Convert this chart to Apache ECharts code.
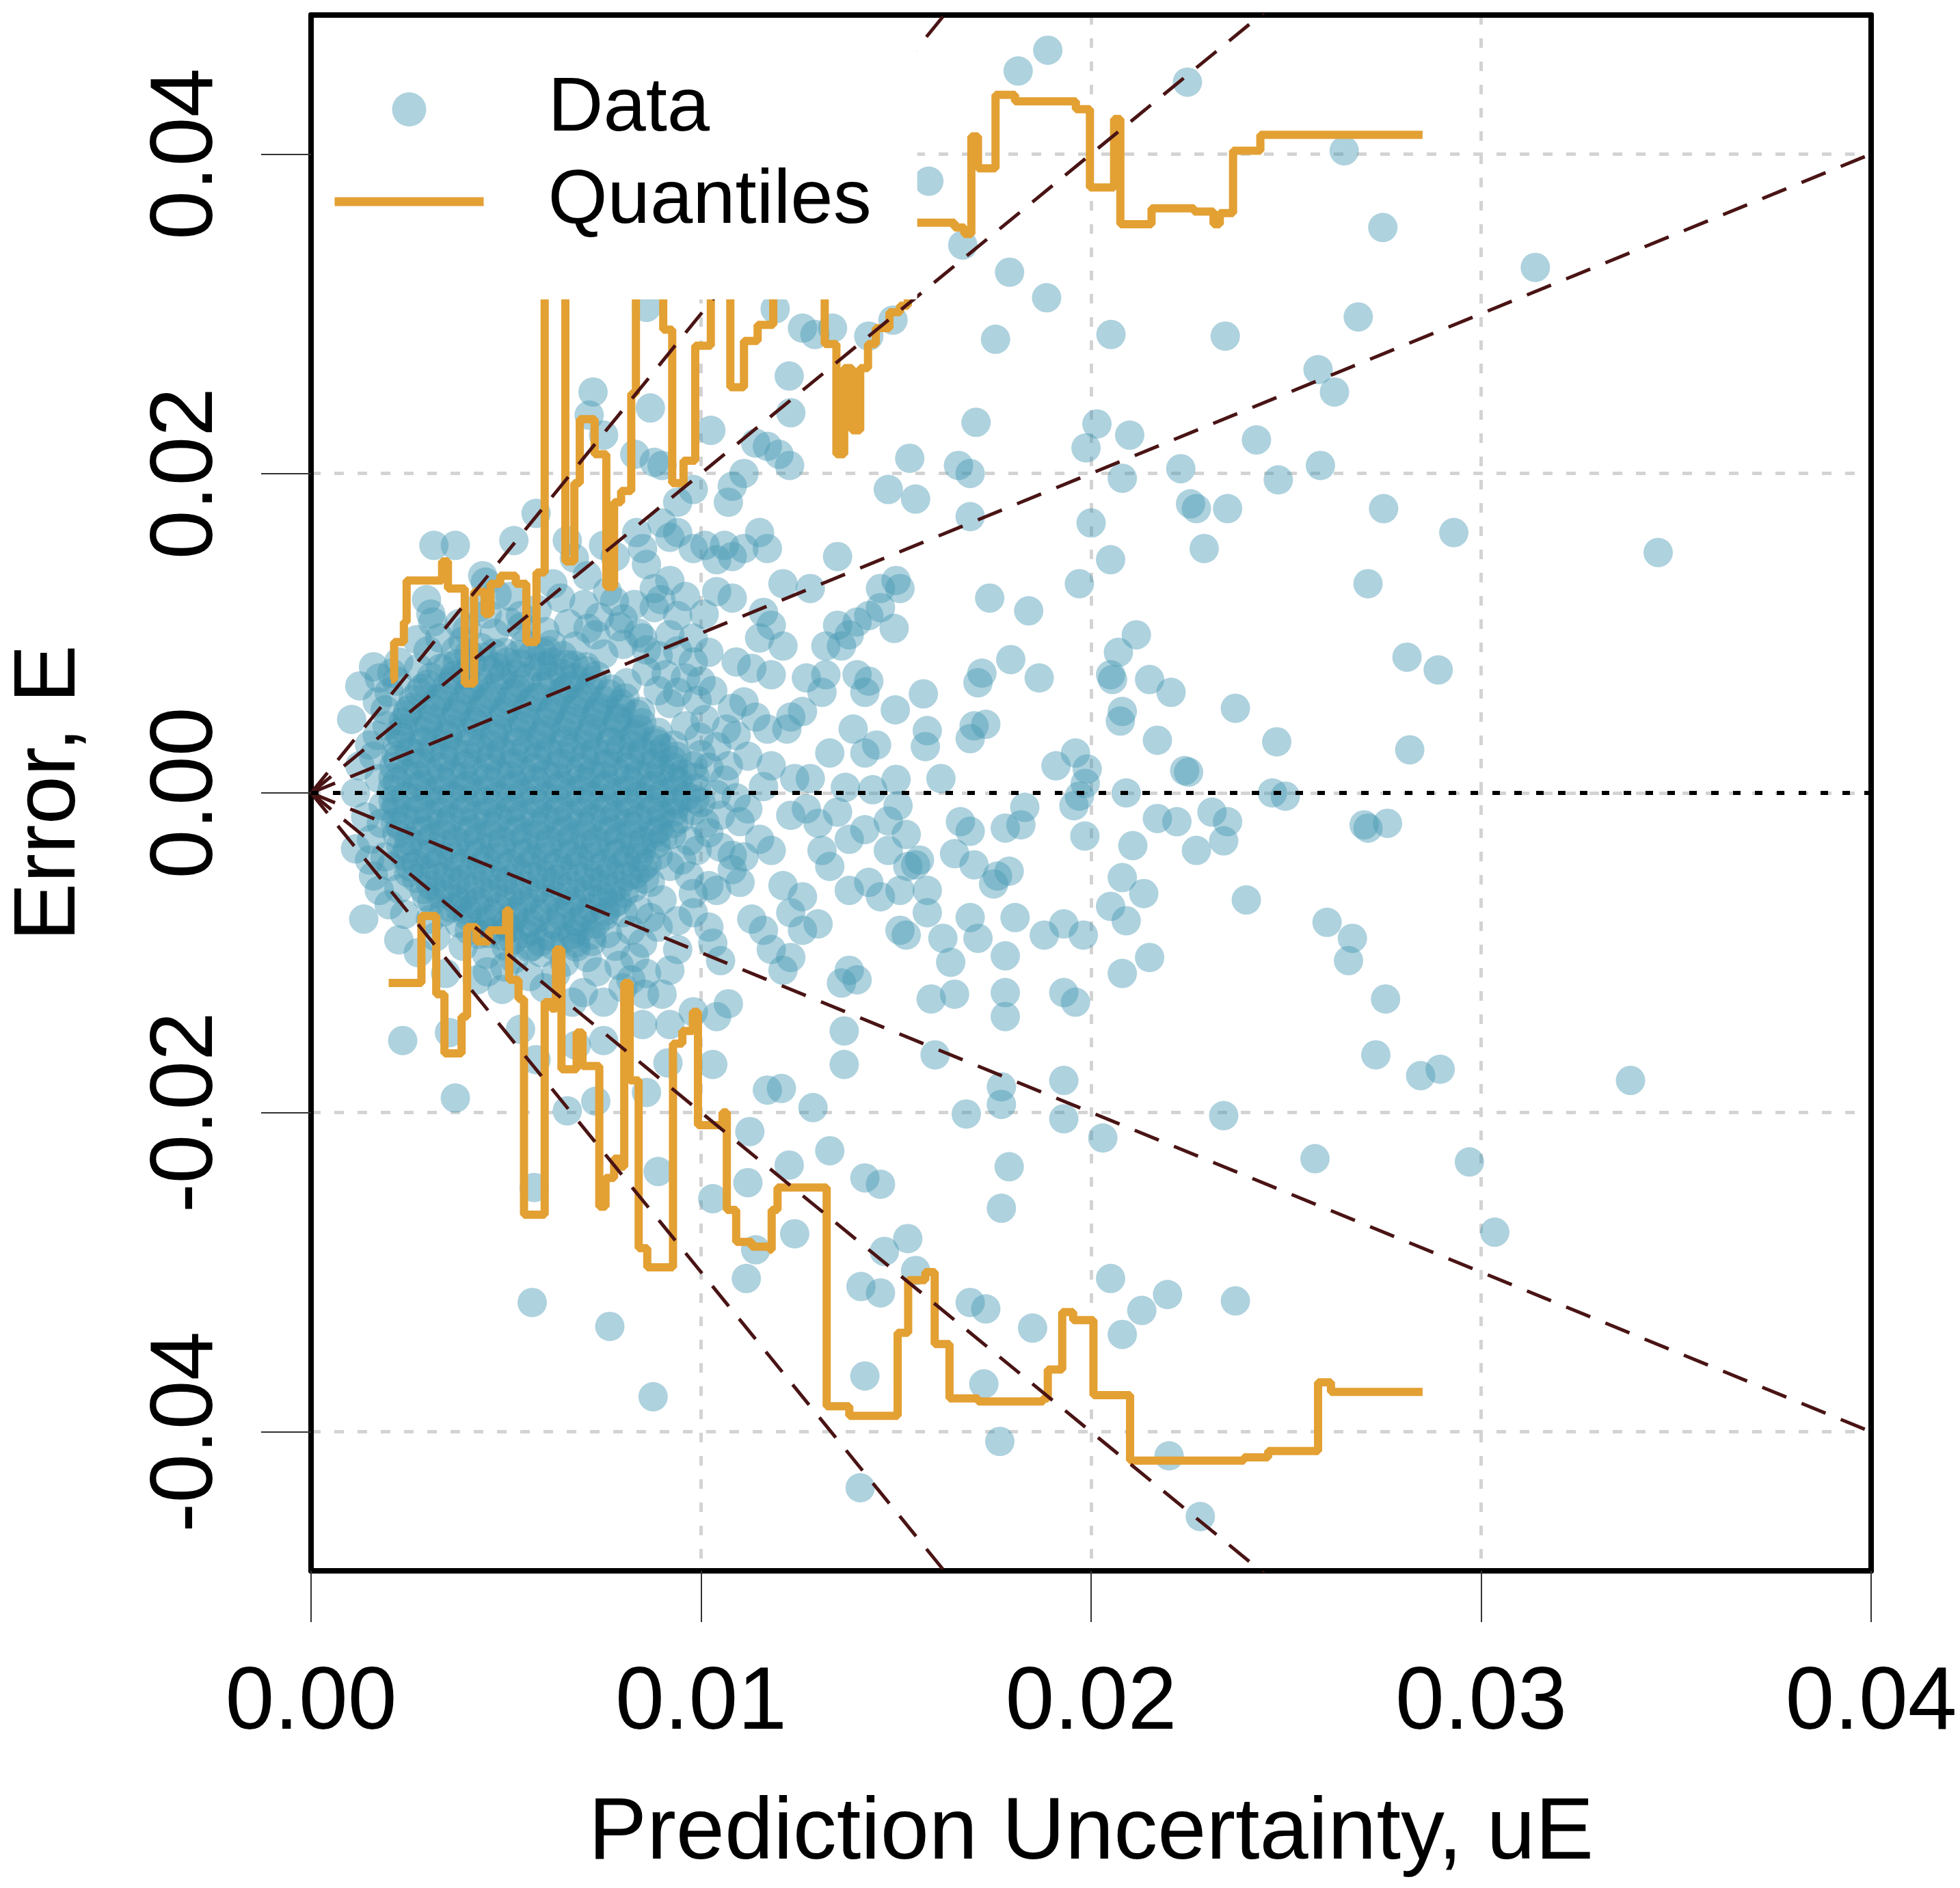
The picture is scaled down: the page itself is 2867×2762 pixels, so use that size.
<!DOCTYPE html>
<html>
<head>
<meta charset="utf-8">
<script src="https://cdn.jsdelivr.net/npm/echarts@6/dist/echarts.min.js"></script>
<style>
html,body{margin:0;padding:0;background:#fff;}
#chart{width:2867px;height:2762px;}
</style>
</head>
<body>
<div id="chart"></div>
<script>
// All values below are in units of 1e-3: [uE, E]
const corePoints = [
[4.35,9.1],[4.95,8.8],[5.48,9.3],[6.05,8.9],[3.9,9.5],
[3.75,8.1],[4.42,8.5],[5.03,8.2],[5.66,8.6],[6.18,8.2],[6.75,8.0],
[3.32,7.8],[3.95,7.4],[4.58,7.7],[5.24,7.45],[5.81,7.9],[6.43,7.5],[7.05,7.65],
[2.98,6.8],[3.63,7.05],[4.18,6.75],[4.84,7.1],[5.37,6.85],[6.02,7.0],[6.61,6.7],[7.22,7.05],
[2.77,6.3],[3.41,6.05],[4.03,6.35],[4.62,6.1],[5.19,6.25],[5.83,6.0],[6.44,6.35],[7.02,6.1],[7.63,6.2],
[2.58,5.35],[3.22,5.62],[3.79,5.4],[4.41,5.65],[5.04,5.38],[5.57,5.6],[6.23,5.42],[6.81,5.66],[7.38,5.35],[7.94,5.6],
[2.46,4.9],[3.08,4.68],[3.72,4.93],[4.28,4.7],[4.93,4.88],[5.52,4.66],[6.12,4.94],[6.69,4.72],[7.31,4.9],[7.88,4.7],[8.34,4.95],
[2.38,4.02],[3.02,4.2],[3.61,3.98],[4.24,4.25],[4.79,4.0],[5.43,4.18],[6.01,3.96],[6.58,4.22],[7.21,4.03],[7.83,4.2],[8.42,4.0],
[2.31,3.5],[2.93,3.28],[3.52,3.52],[4.12,3.3],[4.71,3.48],[5.32,3.27],[5.9,3.53],[6.52,3.3],[7.11,3.5],[7.7,3.26],[8.28,3.48],[8.83,3.3],
[2.52,2.6],[3.11,2.82],[3.68,2.58],[4.33,2.8],[4.88,2.62],[5.51,2.78],[6.09,2.6],[6.71,2.83],[7.28,2.57],[7.92,2.8],[8.49,2.6],[9.04,2.78],
[2.23,2.1],[2.82,1.9],[3.43,2.12],[4.02,1.88],[4.61,2.1],[5.18,1.92],[5.79,2.12],[6.38,1.9],[7.02,2.08],[7.6,1.88],[8.19,2.1],[8.81,1.9],[9.28,2.05],
[2.44,1.2],[3.03,1.42],[3.62,1.18],[4.19,1.4],[4.83,1.22],[5.41,1.38],[6.02,1.2],[6.63,1.42],[7.19,1.2],[7.81,1.38],[8.38,1.18],[8.97,1.4],[9.52,1.22],
[2.21,0.7],[2.84,0.5],[3.39,0.72],[4.01,0.48],[4.62,0.7],[5.22,0.52],[5.79,0.72],[6.41,0.5],[7.03,0.7],[7.58,0.5],[8.22,0.68],[8.79,0.48],[9.41,0.7],
[2.42,-0.2],[3.01,0.02],[3.61,-0.18],[4.22,0.04],[4.78,-0.2],[5.41,0.0],[5.99,-0.22],[6.62,0.02],[7.18,-0.2],[7.82,0.03],[8.41,-0.18],[9.02,0.0],[9.63,-0.2],
[2.19,-0.7],[2.81,-0.92],[3.42,-0.68],[3.98,-0.9],[4.63,-0.7],[5.19,-0.9],[5.82,-0.68],[6.38,-0.92],[7.01,-0.7],[7.62,-0.9],[8.18,-0.7],[8.82,-0.88],[9.38,-0.7],
[2.41,-1.6],[3.02,-1.38],[3.58,-1.62],[4.21,-1.4],[4.81,-1.6],[5.38,-1.38],[6.02,-1.62],[6.59,-1.4],[7.22,-1.6],[7.79,-1.38],[8.39,-1.6],[8.98,-1.4],[9.45,-1.62],
[2.29,-2.1],[2.92,-2.32],[3.49,-2.08],[4.12,-2.3],[4.69,-2.1],[5.31,-2.3],[5.88,-2.08],[6.52,-2.32],[7.09,-2.1],[7.71,-2.3],[8.28,-2.1],[8.91,-2.3],
[2.51,-3.0],[3.09,-2.8],[3.72,-3.02],[4.28,-2.8],[4.91,-3.0],[5.49,-2.78],[6.12,-3.0],[6.68,-2.8],[7.31,-3.02],[7.88,-2.8],[8.52,-3.0],[9.02,-2.8],
[2.48,-3.5],[3.12,-3.72],[3.68,-3.48],[4.31,-3.7],[4.88,-3.5],[5.52,-3.72],[6.08,-3.5],[6.72,-3.7],[7.28,-3.48],[7.91,-3.7],[8.48,-3.5],
[2.69,-4.42],[3.28,-4.2],[3.91,-4.4],[4.48,-4.2],[5.12,-4.42],[5.68,-4.2],[6.32,-4.4],[6.88,-4.18],[7.52,-4.4],[8.08,-4.2],[8.62,-4.4],
[2.91,-4.9],[3.49,-5.12],[4.12,-4.9],[4.68,-5.1],[5.31,-4.88],[5.92,-5.1],[6.49,-4.9],[7.12,-5.12],[7.68,-4.9],[8.31,-5.1],
[3.08,-5.8],[3.71,-5.58],[4.28,-5.8],[4.92,-5.6],[5.48,-5.82],[6.12,-5.6],[6.68,-5.8],[7.31,-5.58],[7.88,-5.8],
[3.31,-6.3],[3.88,-6.52],[4.52,-6.3],[5.08,-6.5],[5.72,-6.28],[6.28,-6.5],[6.92,-6.3],[7.48,-6.5],[8.02,-6.3],
[3.59,-7.2],[4.21,-6.98],[4.78,-7.2],[5.42,-7.0],[5.98,-7.22],[6.62,-7.0],[7.18,-7.2],[7.72,-7.0],
[4.02,-7.7],[4.58,-7.92],[5.22,-7.7],[5.78,-7.9],[6.42,-7.7],[6.98,-7.92],[7.52,-7.7],
[4.48,-8.6],[5.12,-8.4],[5.68,-8.62],[6.32,-8.4],[6.88,-8.6],
[5.18,-9.2],[5.88,-9.32],[6.52,-9.1]
];

const coreFill = [
[4.05,8.7],[4.68,8.75],[5.32,8.65],[5.92,8.8],[6.45,8.6],
[3.5,7.95],[4.12,8.05],[4.75,7.9],[5.36,8.1],[5.95,7.95],[6.55,8.05],[7.05,7.9],
[3.08,7.25],[3.68,7.35],[4.3,7.2],[4.92,7.35],[5.55,7.2],[6.15,7.3],[6.75,7.2],[7.32,7.35],
[2.85,6.55],[3.48,6.65],[4.06,6.5],[4.71,6.6],[5.28,6.5],[5.92,6.65],[6.52,6.5],[7.12,6.6],[7.7,6.5],
[2.62,5.85],[3.28,5.95],[3.89,5.8],[4.51,5.9],[5.09,5.8],[5.72,5.95],[6.31,5.8],[6.92,5.9],[7.51,5.8],[8.05,5.95],
[2.49,5.15],[3.12,5.25],[3.71,5.1],[4.33,5.2],[4.92,5.1],[5.55,5.25],[6.15,5.1],[6.75,5.2],[7.34,5.1],[7.95,5.25],[8.45,5.1],
[2.36,4.45],[2.98,4.55],[3.58,4.4],[4.19,4.5],[4.81,4.4],[5.42,4.55],[6.03,4.4],[6.62,4.5],[7.22,4.4],[7.85,4.55],[8.48,4.4],
[2.27,3.75],[2.88,3.85],[3.49,3.7],[4.09,3.8],[4.7,3.7],[5.29,3.85],[5.91,3.7],[6.49,3.8],[7.12,3.7],[7.72,3.85],[8.32,3.7],[8.9,3.8],
[2.22,3.05],[2.84,3.15],[3.44,3.0],[4.05,3.1],[4.63,3.0],[5.25,3.15],[5.84,3.0],[6.45,3.1],[7.05,3.0],[7.66,3.15],[8.25,3.0],[8.86,3.1],[9.3,3.0],
[2.18,2.35],[2.79,2.45],[3.41,2.3],[4.0,2.4],[4.62,2.3],[5.21,2.45],[5.83,2.3],[6.42,2.4],[7.02,2.3],[7.63,2.45],[8.22,2.3],[8.83,2.4],[9.38,2.3],
[2.12,1.65],[2.71,1.75],[3.32,1.6],[3.93,1.7],[4.52,1.6],[5.12,1.75],[5.72,1.6],[6.32,1.7],[6.91,1.6],[7.52,1.75],[8.11,1.6],[8.72,1.7],[9.3,1.6],[9.8,1.7],
[2.1,0.95],[2.72,1.05],[3.31,0.9],[3.91,1.0],[4.51,0.9],[5.12,1.05],[5.71,0.9],[6.31,1.0],[6.92,0.9],[7.51,1.05],[8.12,0.9],[8.71,1.0],[9.3,0.9],[9.85,1.0],
[2.08,0.25],[2.7,0.35],[3.29,0.2],[3.9,0.3],[4.5,0.2],[5.1,0.35],[5.7,0.2],[6.3,0.3],[6.9,0.2],[7.5,0.35],[8.1,0.2],[8.7,0.3],[9.3,0.2],[9.88,0.3],
[2.1,-0.45],[2.71,-0.35],[3.3,-0.5],[3.92,-0.4],[4.5,-0.5],[5.11,-0.35],[5.71,-0.5],[6.3,-0.4],[6.91,-0.5],[7.5,-0.35],[8.11,-0.5],[8.7,-0.4],[9.3,-0.5],[9.85,-0.4],
[2.12,-1.15],[2.72,-1.05],[3.31,-1.2],[3.91,-1.1],[4.52,-1.2],[5.11,-1.05],[5.72,-1.2],[6.31,-1.1],[6.92,-1.2],[7.51,-1.05],[8.12,-1.2],[8.71,-1.1],[9.3,-1.2],[9.8,-1.1],
[2.15,-1.85],[2.75,-1.75],[3.35,-1.9],[3.95,-1.8],[4.55,-1.9],[5.15,-1.75],[5.75,-1.9],[6.35,-1.8],[6.95,-1.9],[7.55,-1.75],[8.15,-1.9],[8.75,-1.8],[9.3,-1.9],
[2.2,-2.55],[2.8,-2.45],[3.4,-2.6],[4.0,-2.5],[4.6,-2.6],[5.2,-2.45],[5.8,-2.6],[6.4,-2.5],[7.0,-2.6],[7.6,-2.45],[8.2,-2.6],[8.8,-2.5],[9.25,-2.6],
[2.3,-3.25],[2.9,-3.15],[3.5,-3.3],[4.1,-3.2],[4.7,-3.3],[5.3,-3.15],[5.9,-3.3],[6.5,-3.2],[7.1,-3.3],[7.7,-3.15],[8.3,-3.3],[8.85,-3.2],
[2.4,-3.95],[3.0,-3.85],[3.6,-4.0],[4.2,-3.9],[4.8,-4.0],[5.4,-3.85],[6.0,-4.0],[6.6,-3.9],[7.2,-4.0],[7.8,-3.85],[8.4,-4.0],[8.9,-3.9],
[2.55,-4.65],[3.15,-4.55],[3.75,-4.7],[4.35,-4.6],[4.95,-4.7],[5.55,-4.55],[6.15,-4.7],[6.75,-4.6],[7.35,-4.7],[7.95,-4.55],[8.5,-4.7],
[2.7,-5.35],[3.3,-5.25],[3.9,-5.4],[4.5,-5.3],[5.1,-5.4],[5.7,-5.25],[6.3,-5.4],[6.9,-5.3],[7.5,-5.4],[8.1,-5.25],[8.55,-5.4],
[2.9,-6.05],[3.5,-5.95],[4.1,-6.1],[4.7,-6.0],[5.3,-6.1],[5.9,-5.95],[6.5,-6.1],[7.1,-6.0],[7.7,-6.1],[8.25,-5.95],
[3.1,-6.75],[3.7,-6.65],[4.3,-6.8],[4.9,-6.7],[5.5,-6.8],[6.1,-6.65],[6.7,-6.8],[7.3,-6.7],[7.85,-6.8],
[3.4,-7.45],[4.0,-7.35],[4.6,-7.5],[5.2,-7.4],[5.8,-7.5],[6.4,-7.35],[7.0,-7.5],[7.55,-7.4],[8.0,-7.5],
[3.8,-8.15],[4.4,-8.05],[5.0,-8.2],[5.6,-8.1],[6.2,-8.2],[6.8,-8.05],[7.3,-8.2],
[4.3,-8.85],[4.9,-8.95],[5.5,-8.8],[6.1,-8.95],[6.7,-8.85],[7.2,-8.9],
[5.0,-9.6],[5.6,-9.7],[6.2,-9.55],[6.8,-9.65]
];

// Looser points around the edge of the dense core
const coreEdge = [
[4.0,10.2],[4.7,10.0],[5.4,10.4],[6.0,10.1],[6.6,10.6],[7.3,9.9],[7.9,10.4],[8.4,10.0],[5.8,11.5],[6.4,12.2],
[7.0,11.8],[5.1,12.3],[3.8,10.6],[4.3,11.6],[8.0,9.3],[7.5,8.7],[8.9,8.6],[9.4,8.9],[6.2,13.1],[7.6,12.6],
[3.9,-9.6],[4.5,-10.1],[5.2,-10.4],[5.9,-10.0],[6.5,-10.6],[7.2,-9.3],[7.9,-10.8],[8.5,-9.4],[8.9,-8.4],[9.4,-8.0],
[3.2,-9.0],[5.6,-11.5],[8.0,-12.2],[9.0,-12.6],[4.9,-12.3],[8.7,-7.8],[8.2,-8.6],
[9.6,4.2],[10.0,2.4],[10.4,-0.1],[10.1,-1.9],[9.7,-3.0],[9.5,-4.2],[10.7,1.7],[10.9,3.6],[11.2,-1.0],[10.8,-3.9],
[9.4,6.3],[9.8,-6.3],
[1.9,5.2],[1.7,3.6],[1.6,2.3],[1.8,-1.9],[1.5,-4.2],[2.0,-7.0],[2.4,-7.6],[2.2,7.0]
];

const innerPoints = [
[1.25,6.7],[1.04,4.6],[1.7,5.7],[1.95,4.2],[1.25,1.7],[1.75,0.9],[1.14,0.0],[1.85,-0.8],[1.55,-2.9],[1.14,-3.5],
[1.75,-6.1],[1.35,-7.9],[1.75,7.2],[2.75,7.8],[1.5,3.0],[1.4,-1.5],[1.9,-4.0],[1.6,-5.2],[2.0,6.3],[1.6,7.9],
[2.05,-4.6],[2.5,-5.0],[2.25,-6.0],[2.96,-6.5],[3.06,-7.9],[3.76,-7.1],[4.06,-8.6],[4.55,-8.8],[5.07,-8.5],[2.25,-9.2],
[2.75,-10.0],[3.45,-11.3],[4.26,-11.7],[4.97,-10.9],[5.65,-9.6],[5.98,-12.2],[6.28,-11.3],[6.78,-9.4],[7.08,-10.3],[7.6,-8.8],
[7.8,-9.6],[6.98,-12.5],[7.5,-13.1],[4.52,-11.2],[8.55,-12.6],[3.55,-15.0],[7.33,-11.2],
[3.07,11.2],[3.12,10.7],[2.25,8.2],[2.07,7.5],[2.72,9.6],[3.0,8.9],[3.71,8.9],[3.3,9.7],[4.47,13.2],[4.77,12.4],
[5.07,10.7],[5.37,11.1],[6.17,9.3],[6.78,9.2],[7.78,12.0],[8.29,11.8],[8.0,10.9],[8.8,11.6],[9.4,11.1],[9.2,9.9],
[8.5,9.7],[8.6,8.95],[9.8,9.7],[10.2,8.8],[9.8,8.2],[9.6,7.2],[10.0,7.0],[9.1,7.4],[10.4,12.6],[10.8,12.2],
[11.6,11.3],[11.8,10.5],[11.5,9.7],[12.1,9.2],[10.9,8.2],[11.3,7.8],[11.8,7.4],[7.1,10.3],[7.39,11.0],[4.52,11.2],
[6.57,15.8],[6.75,14.7],[7.08,13.6],[10.08,11.2],[8.97,12.1],
[13.5,10.5],[13.8,9.9],[14.0,10.7],[13.2,9.2],[13.6,9.2],[14.3,11.1],[14.6,11.6],[14.95,10.3],[12.7,7.2],[13.2,7.4],
[13.1,6.3],[14.0,7.4],[14.3,7.0],[14.2,6.3],[12.3,4.75],[12.6,5.1],[12.2,4.0],[13.3,2.5],[14.2,2.5],[14.5,3.0],
[13.9,4.0],[10.8,5.3],[11.1,5.7],[11.4,4.75],[10.65,4.0],[11.7,4.0],[11.8,1.7],[12.4,0.9],[12.8,0.9],[13.7,0.35],
[14.4,0.2],[15.0,0.85],[15.05,-0.8],[14.8,-1.75],[13.5,-1.2],[13.0,-1.9],[12.3,-1.4],[12.7,-1.0],[13.8,-2.9],[14.2,-2.3],
[11.5,-2.9],[11.8,-3.6],[11.1,-4.0],[13.1,-3.6],[13.3,-4.6],[14.8,-3.6],[14.3,-5.6],[13.8,-6.1],[14.6,-6.5],[12.1,-5.8],
[12.6,-6.5],[12.3,-7.5],[10.8,-4.8],[11.0,-5.6],[10.4,-6.1],[11.3,-7.9],[11.6,-8.6],[9.8,-7.5],[10.2,-8.4],[11.8,-9.8],
[12.3,-10.3],[12.1,-11.1],[13.8,-11.1],[13.6,-11.9],[14.0,-11.7],[15.1,-8.6],[12.6,-8.6],[13.0,-8.2],[10.7,-13.2],[10.4,-14.0],
[9.4,-9.8],[9.2,-11.1],[10.3,-9.4],[10.5,-10.5],[8.3,-10.3],[8.6,-11.3],[8.2,-11.7],
[9.9,5.8],[10.3,6.4],[10.1,4.6],[9.95,3.5],[10.4,2.9],[10.2,1.6],[10.6,0.8],[10.0,-0.6],[10.5,-1.4],[10.9,-0.3],
[10.2,-2.5],[9.9,-3.6],[10.5,-3.4],[9.7,-5.2],[10.2,-5.8],[11.2,2.3],[11.0,-1.8],[11.6,0.4],[9.2,5.6],[8.9,6.4],
[8.6,7.6],[8.1,6.9],[8.7,-5.6],[9.2,-4.6],[9.0,-6.7],[8.4,-7.3]
];

const upperPoints = [
[7.23,25.1],[7.13,23.65],[7.5,22.4],[8.7,24.1],[10.25,22.7],[12.26,26.1],[12.3,23.8],[12.6,29.1],[12.92,28.7],[13.37,29.1],
[14.3,28.6],[11.9,30.3],[8.6,30.4],[11.4,21.9],[11.7,21.7],[12.0,21.2],[12.27,20.5],[11.1,20.0],[10.8,19.2],[10.7,18.2],
[9.8,19.0],[9.4,18.2],[8.8,20.7],[9.0,20.5],[8.3,21.2],[10.6,15.5],[10.8,14.8],[11.1,15.3],[11.5,16.3],[11.7,15.3],
[9.4,16.3],[9.8,15.3],[10.1,15.5],[10.4,14.6],[9.0,16.9],[9.2,16.0],[12.1,13.1],[12.8,12.8],[13.5,14.8],[14.6,12.8],
[8.35,16.3],[8.5,15.3],[8.6,14.3],[7.5,15.5],[7.8,14.8],[8.8,12.8],[9.2,13.3],[9.6,12.3],[5.77,17.5],[5.2,15.8],
[3.15,15.5],[3.7,15.5],[4.4,13.6],[2.96,12.1],
[18.89,46.5],[18.13,45.2],[22.47,44.5],[26.49,40.2],[15.84,38.3],[27.48,35.4],[16.71,34.3],[31.39,32.9],[17.91,32.6],[18.86,31.0],
[14.92,29.6],[17.55,28.4],[20.51,28.7],[23.44,28.6],[26.85,29.8],[25.82,26.5],[26.24,25.1],[17.05,23.2],[20.15,23.1],[19.87,21.6],
[20.99,22.4],[24.24,22.1],[15.35,20.95],[16.6,20.5],[16.9,20.0],[14.8,19.0],[15.5,18.4],[16.9,17.3],[20.8,19.7],[22.3,20.3],
[24.8,19.6],[25.88,20.5],[20.0,16.9],[22.55,18.1],[22.7,17.8],[23.5,17.8],[27.5,17.8],[29.3,16.3],[22.9,15.3],[20.5,14.6],
[19.7,13.1],[27.1,13.1],[15.0,13.3],[15.1,12.8],[17.4,12.2],[18.4,11.4],[34.54,15.05]
];

const rightPoints = [
[21.16,9.9],[20.7,8.8],[28.1,8.5],[28.9,7.7],[17.94,8.35],[18.67,7.2],[17.2,7.5],[17.1,6.9],[20.5,7.4],[20.55,7.1],
[21.5,7.1],[22.05,6.3],[23.7,5.3],[15.7,6.2],[14.98,5.2],[20.8,5.1],[20.75,4.5],[15.8,3.9],[15.75,2.9],[17.0,4.2],
[17.3,4.3],[16.9,3.4],[21.7,3.3],[24.76,3.2],[28.17,2.7],[19.1,1.7],[19.6,2.5],[19.9,1.5],[19.85,0.6],[22.4,1.4],
[22.5,1.3],[16.15,0.9],[20.9,0.0],[19.7,-0.2],[24.65,0.0],[24.98,-0.2],[18.3,-0.9],[19.56,-0.8],[16.65,-1.8],[16.9,-2.4],
[17.8,-2.2],[18.2,-2.0],[21.7,-1.6],[22.2,-1.8],[23.1,-1.2],[23.5,-1.8],[27.0,-2.0],[27.1,-2.2],[27.6,-1.9],[15.26,-2.6],
[19.84,-2.7],[21.07,-3.3],[22.7,-3.6],[23.4,-3.0],[16.5,-3.8],[15.6,-4.2],[15.5,-4.5],[15.3,-4.6],[17.0,-4.5],[17.6,-5.2],
[17.9,-4.9],[17.5,-5.7],[20.8,-5.3],[21.35,-6.3],[15.1,-6.1],[15.8,-6.1],[20.5,-7.1],[20.9,-8.0],[23.98,-6.7],[15.8,-7.5],
[16.9,-7.8],[17.1,-9.1],[18.05,-7.8],[18.8,-8.9],[19.3,-8.2],[19.8,-8.9],[15.26,-8.9],[16.2,-9.1],[16.4,-10.6],[17.8,-10.2],
[26.05,-8.1],[26.7,-9.1],[26.6,-10.5],[21.5,-10.3],[20.8,-11.3],[15.9,-12.9],[16.5,-12.6],[17.8,-12.5],[17.8,-14.0],[19.3,-12.5],
[19.6,-13.1],[27.55,-12.9],[16.0,-16.4],[27.3,-16.4],[28.45,-17.7],[28.95,-17.3],[17.7,-18.4],[19.3,-18.0],[33.83,-18.0]
];

const lowerPoints = [
[17.7,-19.5],[16.8,-20.1],[19.3,-20.4],[20.3,-21.6],[23.4,-20.2],[25.74,-22.9],[29.7,-23.1],[30.35,-27.5],[17.9,-23.4],[17.7,-26.0],
[15.5,-29.9],[20.5,-30.4],[21.96,-31.4],[21.3,-32.4],[20.8,-33.9],[23.7,-31.8],[16.9,-31.9],[17.3,-32.3],[18.5,-33.5],[17.25,-37.0],
[17.66,-40.6],[22.0,-41.5],[22.8,-45.3],
[2.35,-15.5],[3.7,-19.1],[5.67,-31.9],[7.66,-33.4],[8.77,-37.8],[14.08,-43.5],[14.2,-36.5],[14.1,-30.9],[14.6,-31.3],[11.16,-30.4],
[11.4,-28.6],[12.4,-27.6],[11.2,-24.4],[10.3,-25.4],[12.26,-23.3],[13.3,-22.4],[14.2,-24.1],[14.6,-24.5],[14.7,-28.7],[15.3,-27.9],
[11.25,-21.2],[11.7,-18.6],[12.06,-18.5],[12.87,-19.7],[13.67,-14.9],[13.67,-17.0],[10.3,-17.0],[9.8,-13.7],[8.9,-23.7],[6.57,-19.9],
[8.5,-14.5],[9.2,-14.5],[9.15,-16.9],[7.5,-15.5],[7.3,-19.3],[6.7,-13.1],[6.8,-15.8],[5.77,-16.7],[5.37,-14.8],[8.6,-18.75],
[5.72,-24.7]
];

// Running quantile curves: [uE, E] where E holds until the next uE
const upperQuantile = [
[2.05,7.1],[2.13,9.45],[2.38,10.7],[2.45,13.3],[3.36,14.5],[3.51,12.8],[3.94,6.85],[4.18,12.6],[4.45,11.2],[4.6,13.1],
[4.85,13.6],[5.25,13.1],[5.52,9.45],[5.78,13.8],[5.99,34.0],[6.52,14.5],[6.75,19.4],[6.89,23.4],[7.27,21.2],[7.57,12.9],
[7.77,18.2],[7.95,18.9],[8.21,25.0],[8.33,34.0],[9.03,29.0],[9.26,19.4],[9.55,20.8],[9.85,28.0],[10.25,34.0],[10.75,25.4],
[11.1,28.3],[11.45,29.3],[11.85,34.0],[13.17,28.1],[13.47,21.2],[13.67,26.6],[13.87,22.7],[14.08,26.6],[14.28,28.1],[14.48,29.1],
[14.83,30.1],[15.1,30.5],[15.3,35.7],[16.5,35.4],[16.75,35.0],[16.93,41.1],[17.1,39.1],[17.55,43.7],[18.05,43.3],[19.61,42.8],
[19.97,37.9],[20.59,42.2],[20.75,35.6],[21.55,36.6],[22.64,36.4],[23.14,35.6],[23.3,36.3],[23.64,40.2],[24.34,41.2],[28.5,41.2]
];
const lowerQuantile = [
[1.99,-11.9],[2.83,-7.7],[3.21,-12.6],[3.42,-16.3],[3.86,-14.0],[4.0,-8.4],[4.24,-9.3],[4.56,-8.6],[5.0,-7.35],[5.08,-11.7],
[5.32,-12.9],[5.46,-26.4],[5.99,-13.1],[6.16,-13.5],[6.28,-9.8],[6.42,-17.3],[6.81,-15.0],[6.96,-17.1],[7.39,-25.9],[7.55,-24.1],
[7.77,-22.9],[7.95,-23.4],[8.03,-11.9],[8.17,-18.0],[8.4,-28.5],[8.62,-29.7],[9.28,-15.7],[9.52,-14.9],[9.79,-13.7],[9.92,-20.8],
[10.55,-20.0],[10.66,-26.1],[10.9,-28.1],[11.3,-28.4],[11.76,-28.6],[11.81,-26.1],[11.96,-24.7],[13.22,-38.4],[13.8,-39.0],[15.04,-33.8],
[15.31,-30.5],[15.75,-30.0],[15.99,-34.5],[16.37,-37.9],[17.1,-38.1],[18.77,-37.9],[18.89,-36.1],[19.26,-32.5],[19.54,-33.0],[20.06,-37.7],
[21.0,-41.8],[23.92,-41.6],[24.54,-41.2],[25.82,-36.9],[26.15,-37.5],[28.5,-37.5]
];

// Reference lines E = k * uE
const refSlopes = [1, 2, 3, -1, -2, -3];
const xTicks = [0, 0.01, 0.02, 0.03, 0.04];
const yTicks = [-0.04, -0.02, 0, 0.02, 0.04];
const xRange = [0, 0.04];
const yRange = [-0.0487, 0.0487];

const FONT = 'Liberation Sans, Arial, Helvetica, sans-serif';
const ORANGE = '#E3A033';
const toUnits = arr => arr.map(([u, e]) => [u / 1000, e / 1000]);

const scatterData = toUnits([].concat(corePoints, coreFill, coreEdge, innerPoints, upperPoints, rightPoints, lowerPoints));

const series = [
  {
    name: 'Data',
    type: 'scatter',
    data: scatterData,
    symbol: 'circle',
    symbolSize: 43,
    itemStyle: { color: 'rgba(70,152,180,0.55)' },
    silent: true
  },
  {
    name: 'Quantiles',
    type: 'line',
    step: 'end',
    data: toUnits(upperQuantile),
    showSymbol: false,
    symbol: 'none',
    lineStyle: { color: ORANGE, width: 12 },
    itemStyle: { color: ORANGE },
    silent: true
  },
  {
    name: 'Quantiles',
    type: 'line',
    step: 'end',
    data: toUnits(lowerQuantile),
    showSymbol: false,
    symbol: 'none',
    lineStyle: { color: ORANGE, width: 12 },
    itemStyle: { color: ORANGE },
    silent: true
  }
];

refSlopes.forEach(k => {
  series.push({
    name: 'ref' + k,
    type: 'line',
    data: [[xRange[0], 0], [xRange[1], k * xRange[1]]],
    showSymbol: false,
    symbol: 'none',
    lineStyle: { color: '#4a1414', width: 5, type: [38, 24] },
    silent: true
  });
});

series.push({
  name: 'zero',
  type: 'line',
  data: [[xRange[0], 0], [xRange[1], 0]],
  showSymbol: false,
  symbol: 'none',
  lineStyle: { color: '#000', width: 6, type: [11, 21] },
  silent: true
});

const borderLine = { show: true, onZero: false, lineStyle: { color: '#000', width: 8 } };
const gridLine = { show: true, lineStyle: { color: '#d3d3d3', width: 5, type: [14, 20] } };

const option = {
  animation: false,
  backgroundColor: '#fff',
  grid: { left: 455, right: 130, top: 22, bottom: 464, containLabel: false },
  legend: {
    data: [
      { name: 'Data' },
      { name: 'Quantiles', itemStyle: { opacity: 0 } }
    ],
    orient: 'vertical',
    left: 459,
    top: 26,
    itemWidth: 218,
    itemHeight: 50,
    itemGap: 23,
    backgroundColor: '#fff',
    padding: [78, 67, 87, 24],
    selectedMode: false,
    lineStyle: { width: 13 },
    textStyle: { fontSize: 112, fontFamily: FONT, color: '#000', padding: [0, 0, 0, 89] }
  },
  xAxis: [
    {
      type: 'value', min: xRange[0], max: xRange[1], interval: 0.01, position: 'bottom',
      axisLine: borderLine,
      axisTick: { show: true, length: 75, lineStyle: { color: '#333', width: 2 } },
      axisLabel: { margin: 131, fontSize: 129, fontFamily: FONT, color: '#000', formatter: v => v.toFixed(2) },
      splitLine: gridLine,
      name: 'Prediction Uncertainty, uE', nameLocation: 'middle', nameGap: 322,
      nameTextStyle: { fontSize: 128, fontFamily: FONT, color: '#000' }
    },
    {
      type: 'value', min: xRange[0], max: xRange[1], interval: 0.01, position: 'top',
      axisLine: borderLine, axisTick: { show: false }, axisLabel: { show: false }, splitLine: { show: false }
    }
  ],
  yAxis: [
    {
      type: 'value', min: yRange[0], max: yRange[1], splitNumber: 5, position: 'left',
      axisLine: borderLine,
      axisTick: { show: true, length: 73, customValues: yTicks, lineStyle: { color: '#333', width: 2 } },
      axisLabel: { rotate: 90, margin: 116, fontSize: 129, fontFamily: FONT, color: '#000',
        customValues: yTicks, formatter: v => v.toFixed(2) },
      splitLine: gridLine,
      name: 'Error, E', nameLocation: 'middle', nameGap: 317,
      nameTextStyle: { fontSize: 128, fontFamily: FONT, color: '#000' }
    },
    {
      type: 'value', min: yRange[0], max: yRange[1], position: 'right',
      axisLine: borderLine, axisTick: { show: false }, axisLabel: { show: false }, splitLine: { show: false }
    }
  ],
  series: series
};

const chart = echarts.init(document.getElementById('chart'), null, { renderer: 'canvas' });
chart.setOption(option);
</script>
</body>
</html>
